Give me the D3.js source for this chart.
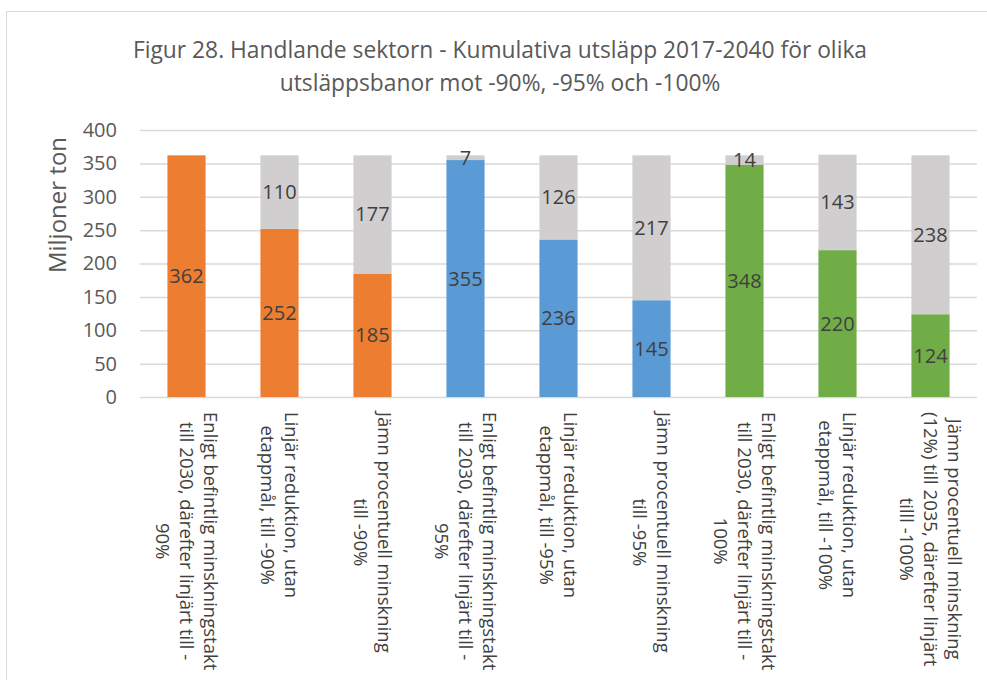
<!DOCTYPE html>
<html><head><meta charset="utf-8">
<script src="https://cdn.jsdelivr.net/npm/d3@7"></script>
<style>body{margin:0;background:#fff;}svg{display:block;font-family:"Open Sans",sans-serif;}</style>
</head><body>
<svg id="c" width="987" height="680"></svg>
<script>
const categories = [
  ["Enligt befintlig minskningstakt","till 2030, därefter linjärt till -","90%"],
  ["Linjär reduktion, utan","etappmål, till -90%"],
  ["Jämn procentuell minskning","till -90%"],
  ["Enligt befintlig minskningstakt","till 2030, därefter linjärt till -","95%"],
  ["Linjär reduktion, utan","etappmål, till -95%"],
  ["Jämn procentuell minskning","till -95%"],
  ["Enligt befintlig minskningstakt","till 2030, därefter linjärt till -","100%"],
  ["Linjär reduktion, utan","etappmål, till -100%"],
  ["Jämn procentuell minskning","(12%) till 2035, därefter linjärt","tilll -100%"]
];
const emitted = [362,252,185,355,236,145,348,220,124];
const remaining = [0,110,177,7,126,217,14,143,238];
const barColors = ["#ED7D31","#ED7D31","#ED7D31","#5B9BD5","#5B9BD5","#5B9BD5","#70AD47","#70AD47","#70AD47"];
const yTicks = [0,50,100,150,200,250,300,350,400];
const titleLines = ["Figur 28. Handlande sektorn - Kumulativa utsläpp 2017-2040 för olika","utsläppsbanor mot -90%, -95% och -100%"];
const yTitle = "Miljoner ton";
const greyColor = "#D0CECE";

(function(){
const svg = d3.select("#c");
svg.append("rect").attr("x",6.5).attr("y",11.5).attr("width",990).attr("height",700)
  .attr("fill","none").attr("stroke","#d9d9d9").attr("stroke-width",1);

const pL = 140, pR = 977, pT = 130, pB = 397;
const x = d3.scaleBand().domain(d3.range(categories.length)).range([pL,pR]).paddingInner(0.59).paddingOuter(0.295);
const y = d3.scaleLinear().domain([0,400]).range([pB,pT]);

svg.append("g").selectAll("text").data(titleLines).join("text")
  .attr("x",500).attr("y",(d,i)=>58+i*33)
  .attr("text-anchor","middle").attr("font-size",22.8).attr("fill","#595959").text(d=>d);

const yAxis = d3.axisLeft(y).tickValues(yTicks).tickSize(-(pR-pL)).tickPadding(23);
const ga = svg.append("g").attr("transform",`translate(${pL},0)`).call(yAxis);
ga.select(".domain").remove();
ga.selectAll(".tick line").attr("stroke","#d9d9d9").attr("stroke-width",1.5);
ga.selectAll(".tick text").attr("font-size",20).attr("fill","#595959").attr("font-family","Open Sans");

svg.append("text").attr("transform","translate(66,205) rotate(-90)").attr("text-anchor","middle")
  .attr("font-size",24).attr("fill","#595959").text(yTitle);

const bars = svg.append("g");
bars.selectAll("rect.e").data(emitted).join("rect").attr("class","e")
  .attr("x",(d,i)=>x(i)).attr("width",x.bandwidth())
  .attr("y",d=>y(d)).attr("height",d=>y(0)-y(d)).attr("fill",(d,i)=>barColors[i]);
bars.selectAll("rect.r").data(remaining).join("rect").attr("class","r")
  .attr("x",(d,i)=>x(i)).attr("width",x.bandwidth())
  .attr("y",(d,i)=>y(emitted[i]+d)).attr("height",(d,i)=>y(emitted[i])-y(emitted[i]+d)).attr("fill",greyColor);

const lab = svg.append("g").attr("font-size",20).attr("fill","#404040").attr("text-anchor","middle");
lab.selectAll("text.e").data(emitted).join("text").attr("class","e")
  .attr("x",(d,i)=>x(i)+x.bandwidth()/2).attr("y",d=>y(d/2)).attr("dy","0.35em").text(d=>d);
lab.selectAll("text.r").data(remaining).join("text").attr("class","r")
  .attr("x",(d,i)=>x(i)+x.bandwidth()/2).attr("y",(d,i)=>y(emitted[i]+d/2)).attr("dy","0.35em")
  .text(d=>d>0?d:"");

const lh = 24;
categories.forEach((lines,i)=>{
  const cx = x(i)+x.bandwidth()/2;
  const g = svg.append("g").attr("transform",`translate(${cx},412) rotate(90)`);
  const ts = g.selectAll("text").data(lines).join("text")
    .attr("font-size",18.5).attr("fill","#404040")
    .attr("y",(d,j)=>(j-(lines.length-1)/2)*lh).attr("dy","0.35em").text(d=>d);
  let maxLen = 0;
  ts.each(function(){ maxLen = Math.max(maxLen,this.getComputedTextLength()); });
  ts.attr("x",maxLen/2).attr("text-anchor","middle");
});
})();
</script>
</body></html>
